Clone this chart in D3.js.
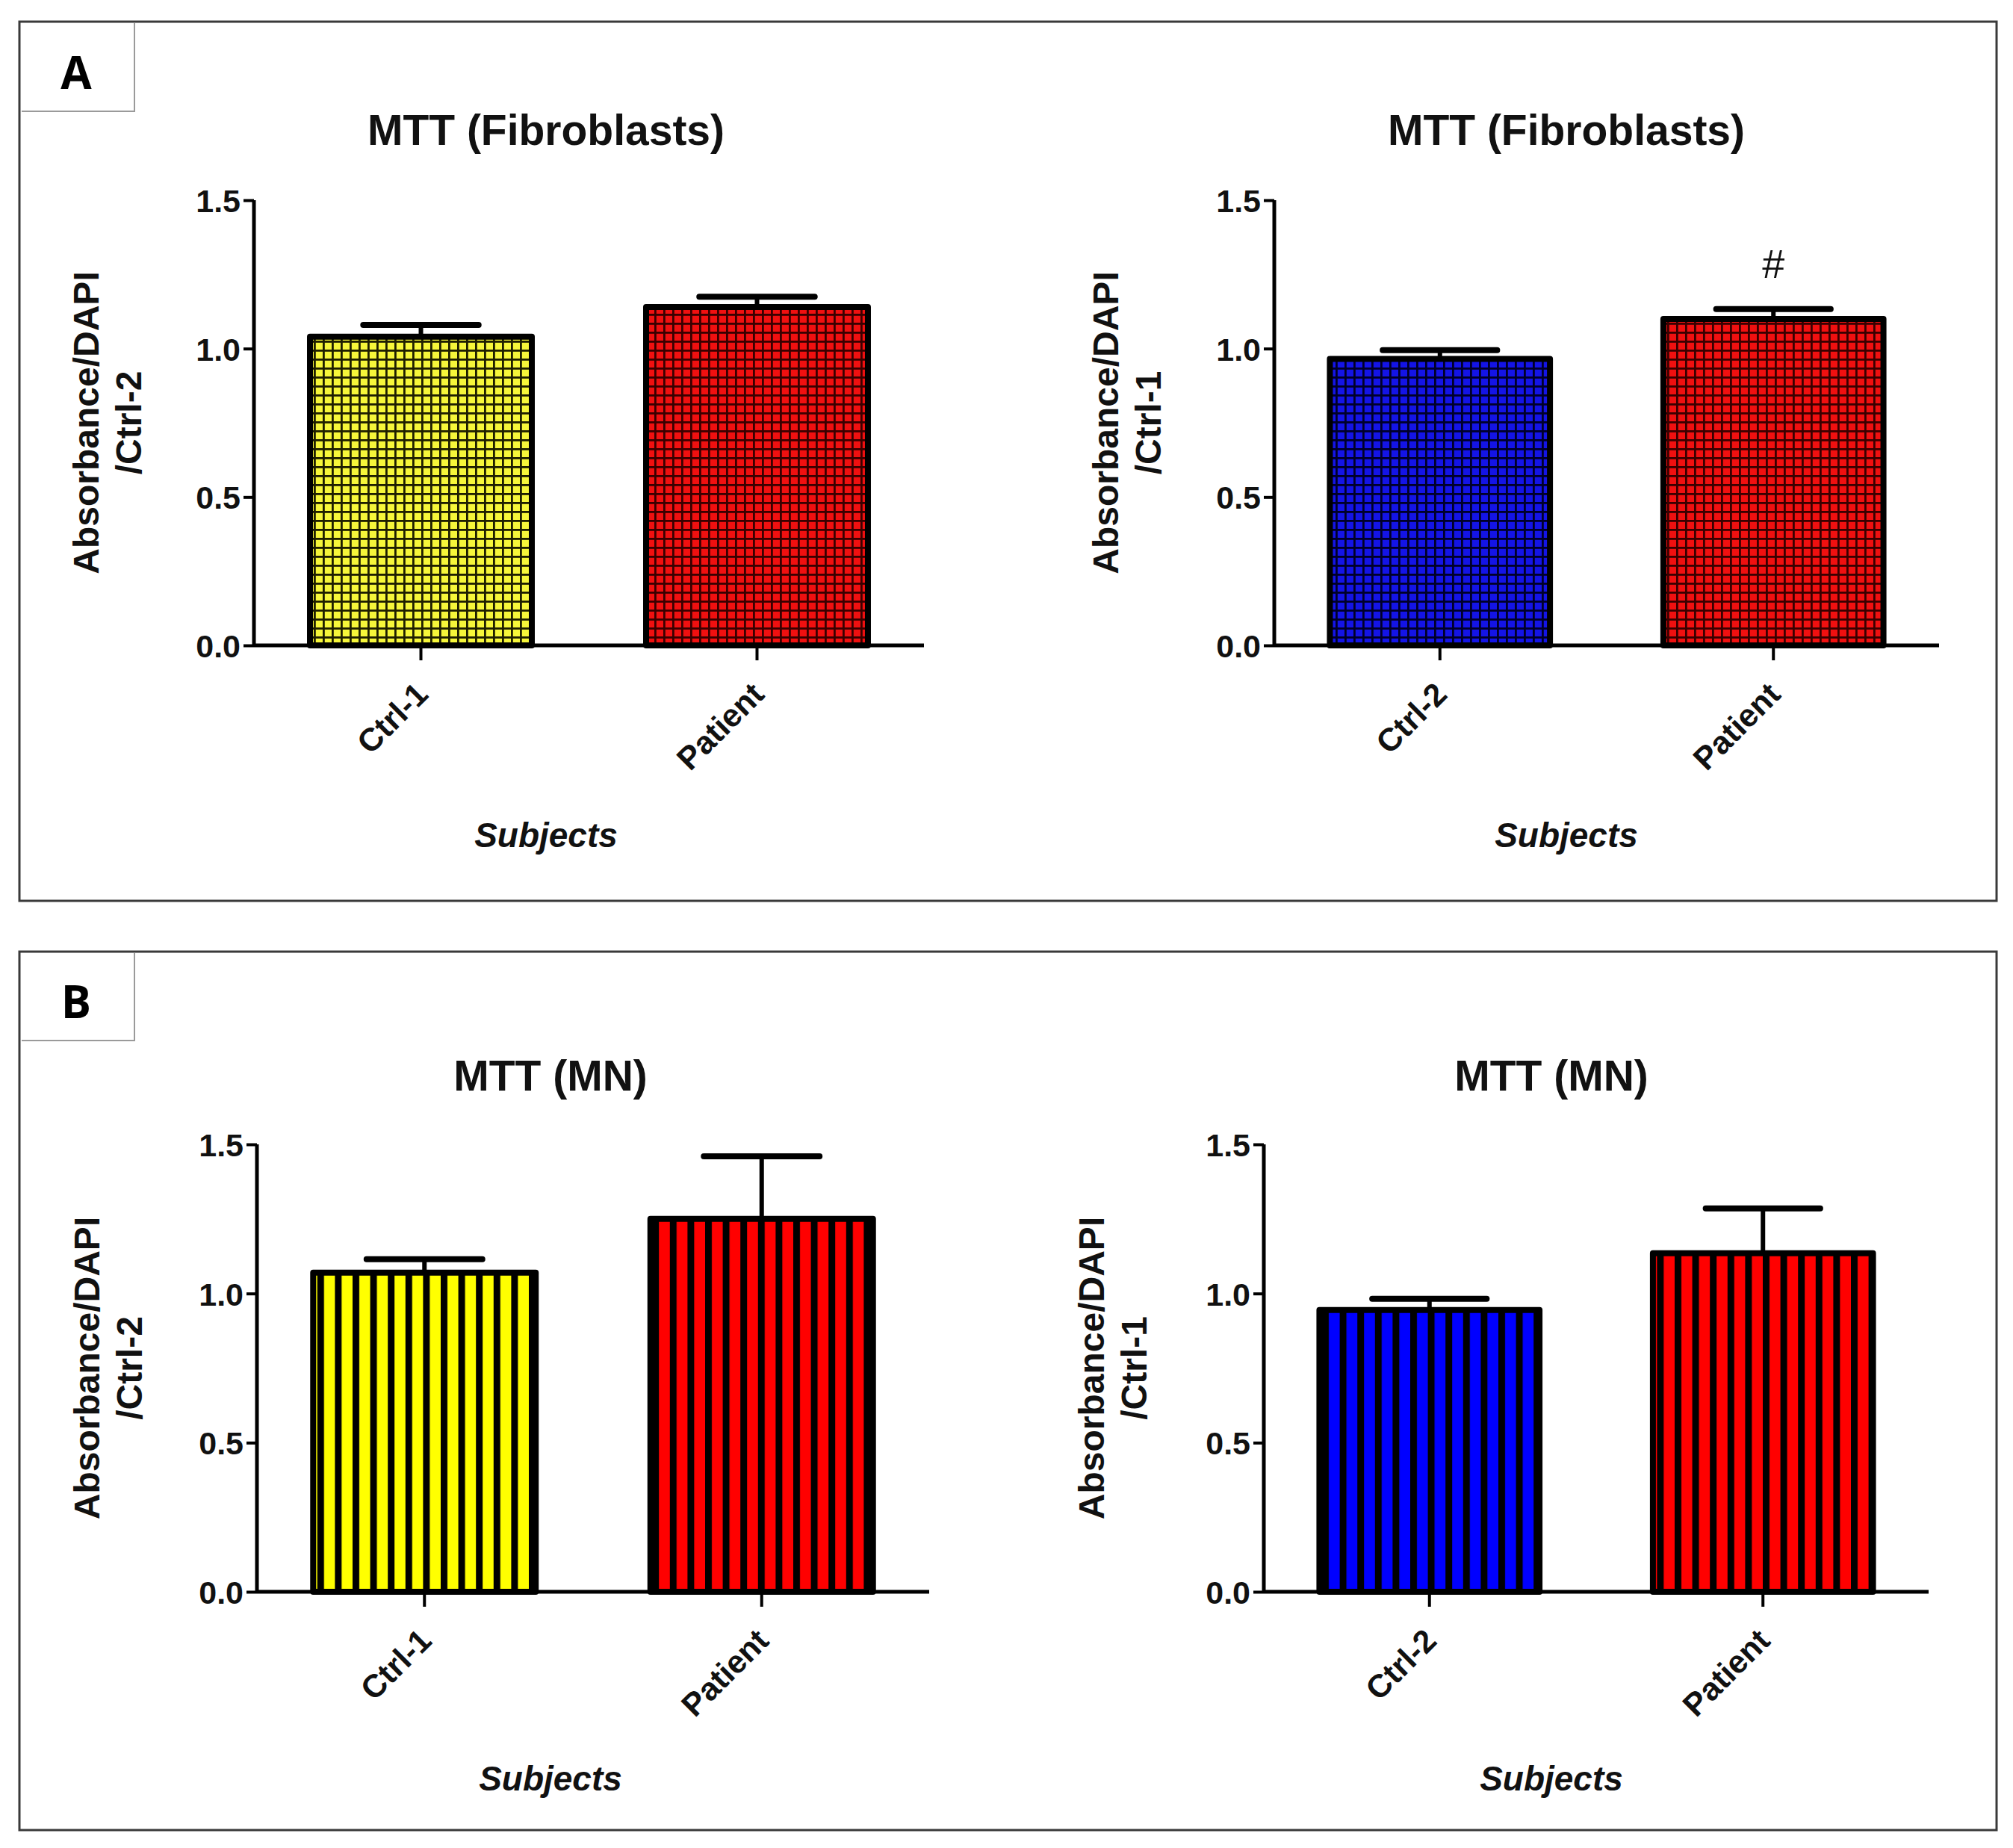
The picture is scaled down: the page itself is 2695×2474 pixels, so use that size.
<!DOCTYPE html>
<html>
<head>
<meta charset="utf-8">
<script src="https://cdn.jsdelivr.net/npm/d3@7"></script>
<style>
  html, body { margin: 0; padding: 0; background: #fff; }
  svg { display: block; font-family: "Liberation Sans", Arial, sans-serif; }
</style>
</head>
<body>
<svg width="2695" height="2474"></svg>
<script>
// DATA

var catsCtrl1 = ["Ctrl-1", "Patient"],
    catsCtrl2 = ["Ctrl-2", "Patient"];

var fibroCtrl1Mean = [1.04, 1.14],
    fibroCtrl1Err  = [0.04, 0.035];

var fibroCtrl2Mean = [0.965, 1.10],
    fibroCtrl2Err  = [0.03, 0.033];

var mnCtrl1Mean = [1.07, 1.25],
    mnCtrl1Err  = [0.045, 0.21];

var mnCtrl2Mean = [0.945, 1.135],
    mnCtrl2Err  = [0.037, 0.15];

var yTicks = [0, 0.5, 1.0, 1.5];

var barColors1 = ["yellow", "red"],
    barColors2 = ["blue", "red"];

// SETUP

var svg = d3.select("svg"),
    font = "\"Liberation Sans\", Arial, sans-serif";

var defs = svg.append("defs");

var palette = {
    yellow: { base: "#f6f63a", line: "#1e1e00", flat: "#ffff00" },
    red:    { base: "#f01010", line: "#3a0000", flat: "#ff0000" },
    blue:   { base: "#1414e6", line: "#00002a", flat: "#0000ff" }
};

// grid hatching (fibroblast panels) and vertical stripes (MN panels)
Object.keys(palette).forEach(function (k) {
    var c = palette[k];
    var p = defs.append("pattern")
        .attr("id", "grid-" + k)
        .attr("patternUnits", "userSpaceOnUse")
        .attr("width", 12).attr("height", 12);
    p.append("rect").attr("width", 12).attr("height", 12).attr("fill", c.base);
    p.append("rect").attr("x", 0).attr("y", 0).attr("width", 12).attr("height", 2.8).attr("fill", c.line);
    p.append("rect").attr("x", 0).attr("y", 0).attr("width", 2.8).attr("height", 12).attr("fill", c.line);

    var s = defs.append("pattern")
        .attr("id", "stripe-" + k)
        .attr("patternUnits", "userSpaceOnUse")
        .attr("width", 23.6).attr("height", 20);
    s.append("rect").attr("width", 23.6).attr("height", 20).attr("fill", c.flat);
    s.append("rect").attr("x", 0).attr("width", 9).attr("height", 20).attr("fill", "#000");
});

// PANEL FRAMES

function panelFrame(top, h, label, labelBottom) {
    svg.append("rect")
        .attr("x", 26).attr("y", top)
        .attr("width", 2647).attr("height", h)
        .attr("fill", "none")
        .attr("stroke", "#3a3a3a")
        .attr("stroke-width", 3);
    svg.append("path")
        .attr("d", "M29," + labelBottom + "H180V" + (top + 2))
        .attr("fill", "none")
        .attr("stroke", "#9a9a9a")
        .attr("stroke-width", 2);
    svg.append("text")
        .attr("x", 102).attr("y", labelBottom - 30)
        .attr("text-anchor", "middle")
        .attr("font-size", 60).attr("font-weight", "bold")
        .attr("font-family", "\"Open Sans\", \"Liberation Sans\", sans-serif")
        .text(label);
}

panelFrame(29, 1177, "A", 149);
panelFrame(1274, 1176, "B", 1393);

// CHARTS

var charts = [
    { title: "MTT (Fibroblasts)", cats: catsCtrl1, mean: fibroCtrl1Mean, err: fibroCtrl1Err, colors: barColors1, fill: "grid",
      ylab: "/Ctrl-2", x0: 340, x1: 1237, yTop: 268, yBot: 864, titleX: 731, titleY: 194, labX: 132, subY: 1134 },
    { title: "MTT (Fibroblasts)", cats: catsCtrl2, mean: fibroCtrl2Mean, err: fibroCtrl2Err, colors: barColors2, fill: "grid",
      ylab: "/Ctrl-1", x0: 1706, x1: 2596, yTop: 268, yBot: 864, titleX: 2097, titleY: 194, labX: 1497, subY: 1134,
      mark: "#" },
    { title: "MTT (MN)", cats: catsCtrl1, mean: mnCtrl1Mean, err: mnCtrl1Err, colors: barColors1, fill: "stripe",
      ylab: "/Ctrl-2", x0: 344, x1: 1244, yTop: 1532, yBot: 2131, titleX: 737, titleY: 1460, labX: 133, subY: 2397 },
    { title: "MTT (MN)", cats: catsCtrl2, mean: mnCtrl2Mean, err: mnCtrl2Err, colors: barColors2, fill: "stripe",
      ylab: "/Ctrl-1", x0: 1692, x1: 2582, yTop: 1532, yBot: 2131, titleX: 2077, titleY: 1460, labX: 1478, subY: 2397 }
];

charts.forEach(drawChart);

function drawChart(c) {
    var x = d3.scaleBand()
        .domain(c.cats)
        .range([c.x0, c.x1])
        .paddingInner(0.34)
        .paddingOuter(0.1667);

    var y = d3.scaleLinear()
        .domain([0, 1.5])
        .range([c.yBot, c.yTop]);

    var g = svg.append("g");

    // title
    g.append("text")
        .attr("x", c.titleX).attr("y", c.titleY)
        .attr("text-anchor", "middle")
        .attr("font-size", 57).attr("font-weight", "bold")
        .attr("fill", "#111")
        .text(c.title);

    // y label, two lines
    var yMid = (c.yTop + c.yBot) / 2;
    [["Absorbance/DAPI", 0], [c.ylab, 57]].forEach(function (l) {
        g.append("text")
            .attr("transform", "translate(" + (c.labX + l[1]) + "," + yMid + ") rotate(-90)")
            .attr("text-anchor", "middle")
            .attr("font-size", 48).attr("font-weight", "bold")
            .attr("fill", "#111")
            .text(l[0]);
    });

    // bars
    var data = c.cats.map(function (d, i) {
        return { cat: d, mean: c.mean[i], err: c.err[i], color: c.colors[i] };
    });

    var bars = g.selectAll(".bar").data(data).enter().append("g").attr("class", "bar");

    // error bars (mean + SEM, upper only)
    bars.append("line")
        .attr("x1", function (d) { return x(d.cat) + x.bandwidth() / 2; })
        .attr("x2", function (d) { return x(d.cat) + x.bandwidth() / 2; })
        .attr("y1", function (d) { return y(d.mean); })
        .attr("y2", function (d) { return y(d.mean + d.err); })
        .attr("stroke", "#000").attr("stroke-width", 6);
    bars.append("line")
        .attr("x1", function (d) { return x(d.cat) + x.bandwidth() * 0.24; })
        .attr("x2", function (d) { return x(d.cat) + x.bandwidth() * 0.76; })
        .attr("y1", function (d) { return y(d.mean + d.err); })
        .attr("y2", function (d) { return y(d.mean + d.err); })
        .attr("stroke", "#000").attr("stroke-width", 8)
        .attr("stroke-linecap", "round");

    bars.append("rect")
        .attr("x", function (d) { return x(d.cat); })
        .attr("y", function (d) { return y(d.mean); })
        .attr("width", x.bandwidth())
        .attr("height", function (d) { return y(0) - y(d.mean); })
        .attr("fill", function (d) { return "url(#" + c.fill + "-" + d.color + ")"; })
        .attr("stroke", "#000")
        .attr("stroke-width", 8)
        .attr("stroke-linejoin", "round");

    // y axis
    var ya = g.append("g")
        .attr("transform", "translate(" + c.x0 + ",0)")
        .call(d3.axisLeft(y).tickValues(yTicks).tickFormat(d3.format(".1f")).tickSize(14).tickPadding(4));
    ya.select(".domain").attr("stroke-width", 5).attr("d", "M0," + c.yTop + "V" + c.yBot);
    ya.selectAll(".tick line").attr("stroke-width", 4);
    ya.selectAll(".tick text")
        .attr("font-size", 43).attr("font-weight", "bold")
        .attr("font-family", font).attr("fill", "#111")
        .attr("dy", "0.36em");

    // x axis
    var xa = g.append("g")
        .attr("transform", "translate(0," + c.yBot + ")")
        .call(d3.axisBottom(x).tickSize(20).tickFormat(""));
    xa.select(".domain").attr("stroke-width", 5).attr("d", "M" + c.x0 + ",0H" + c.x1);
    xa.selectAll(".tick line").attr("stroke-width", 4);

    // rotated category labels
    g.selectAll(".cat").data(c.cats).enter().append("text")
        .attr("class", "cat")
        .attr("transform", function (d) {
            return "translate(" + (x(d) + x.bandwidth() / 2 + 12) + "," + (c.yBot + 68) + ") rotate(-45)";
        })
        .attr("text-anchor", "end")
        .attr("font-size", 43).attr("font-weight", "bold")
        .attr("fill", "#111")
        .text(function (d) { return d; });

    // x title
    g.append("text")
        .attr("x", c.titleX).attr("y", c.subY)
        .attr("text-anchor", "middle")
        .attr("font-size", 46).attr("font-weight", "bold").attr("font-style", "italic")
        .attr("fill", "#111")
        .text("Subjects");

    // significance mark over the patient bar
    if (c.mark) {
        var last = data[data.length - 1];
        g.append("text")
            .attr("x", x(last.cat) + x.bandwidth() / 2)
            .attr("y", y(last.mean + last.err) - 42)
            .attr("text-anchor", "middle")
            .attr("font-size", 54)
            .attr("fill", "#111")
            .text(c.mark);
    }
}
</script>
</body>
</html>
